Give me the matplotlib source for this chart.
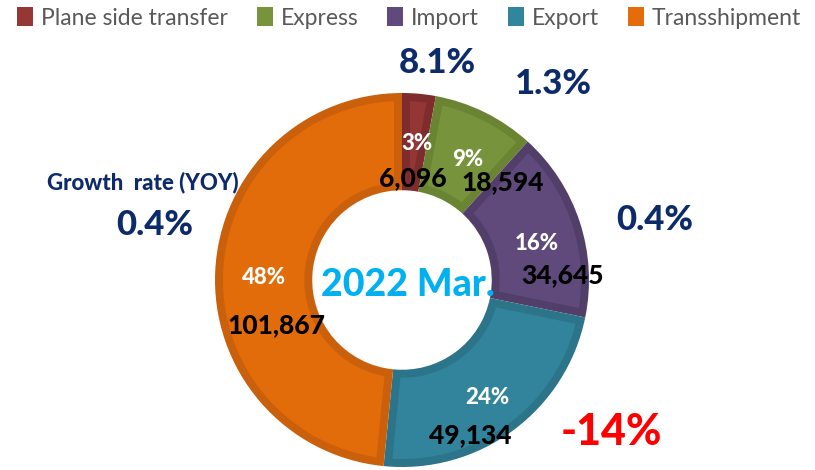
import numpy as np
import matplotlib.pyplot as plt
from matplotlib.patches import Patch, Polygon

categories = ["Plane side transfer", "Express", "Import", "Export", "Transshipment"]
volumes = [6096, 18594, 34645, 49134, 101867]
pct_labels = ["3%", "9%", "16%", "24%", "48%"]
growth_labels = ["8.1%", "1.3%", "0.4%", "-14%", "0.4%"]

face_colors = ["#943634", "#77933C", "#5F4A7B", "#31849B", "#E36C0A"]
band_colors = ["#7E2C2E", "#6A8434", "#513F6A", "#2B7489", "#CB600C"]
legend_colors = ["#953735", "#77933C", "#604A7B", "#31859C", "#E46C0A"]

W, H = 815, 470
plt.rcParams['font.family'] = ['Lato', 'DejaVu Sans']


def inset_sector(w, b, n=60):
    # wedge outline shrunk by b on every side (outer/inner arcs and both radial edges)
    cx, cy = w.center
    ro, ri = w.r - b, w.r - w.width + b
    t1, t2 = np.radians(w.theta1), np.radians(w.theta2)
    a_out = np.linspace(t1 + np.arcsin(b / ro), t2 - np.arcsin(b / ro), n)
    a_in = np.linspace(t2 - np.arcsin(b / ri), t1 + np.arcsin(b / ri), n)
    xs = np.concatenate([cx + ro * np.cos(a_out), cx + ri * np.cos(a_in)])
    ys = np.concatenate([cy + ro * np.sin(a_out), cy + ri * np.sin(a_in)])
    return np.column_stack([xs, ys])


fig = plt.figure(figsize=(W / 100, H / 100), dpi=100)
ax = fig.add_axes([0, 0, 1, 1])

cx, cy, r = 402, H - 280, 187
wedges, _ = ax.pie(volumes, colors=band_colors, startangle=90, counterclock=False,
                   center=(cx, cy), radius=r, frame=True,
                   wedgeprops=dict(width=r * 0.52, linewidth=0))
ax.set_xlim(0, W)
ax.set_ylim(0, H)
ax.set_aspect('equal')
ax.axis('off')

# lighter face inside each wedge leaves a darker band along its border
for w, fc in zip(wedges, face_colors):
    ax.add_patch(Polygon(inset_sector(w, 8), closed=True, facecolor=fc, edgecolor="none"))

# label positions (image pixels)
pct_pos = [(417, 143), (468, 160), (537, 243), (487, 398), (264, 277)]
val_pos = [(413, 178), (503, 182), (562, 275), (470, 435), (276, 325)]
for p, (x, y) in zip(pct_labels, pct_pos):
    ax.text(x, H - y, p, color="white", fontsize=16, fontweight="black", ha="center", va="center")
for v, (x, y) in zip(volumes, val_pos):
    ax.text(x, H - y, f"{v:,}", color="black", fontsize=19, fontweight="black", ha="center", va="center")

ax.text(408, H - 285, "2022 Mar.", color="#00B0F0", fontsize=27, fontweight="black", ha="center", va="center")

navy = "#0D2B6B"
growth_pos = [(437, 63), (553, 84), (655, 220), (611, 432), (155, 225)]
growth_size = [25, 25, 25, 31, 25]
for g, (x, y), s in zip(growth_labels, growth_pos, growth_size):
    col = "#FF0000" if g.startswith("-") else navy
    ax.text(x, H - y, g, color=col, fontsize=s, fontweight="black", ha="center", va="center")
ax.text(143, H - 182, "Growth  rate (YOY)", color=navy, fontsize=16, fontweight="black",
        ha="center", va="center")

handles = [Patch(facecolor=c, edgecolor="none") for c in legend_colors]
fig.legend(handles, categories, loc="center", bbox_to_anchor=(409 / W, 1 - 18 / H), ncol=5,
           frameon=False, fontsize=16.5, labelcolor="#595959", handlelength=0.7, handleheight=0.9,
           handletextpad=0.35, columnspacing=1.25, borderpad=0)

fig.savefig("out.png", dpi=100)
